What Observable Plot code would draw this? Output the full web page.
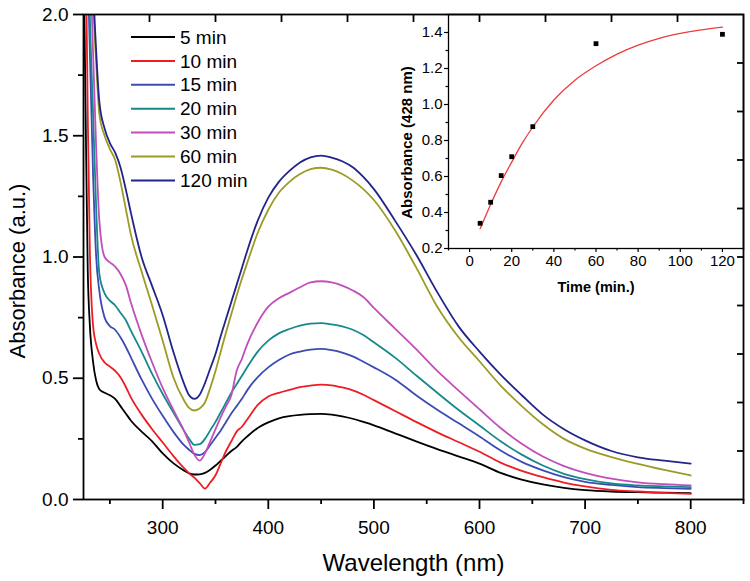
<!DOCTYPE html>
<html><head><meta charset="utf-8">
<script src="https://cdn.jsdelivr.net/npm/d3@7"></script>
<script src="https://cdn.jsdelivr.net/npm/@observablehq/plot@0.6"></script>
<style>
body{margin:0;background:#fff;}
#wrap{position:relative;width:750px;height:581px;}
#wrap svg{position:absolute;left:0;top:0;}
</style></head><body><div id="wrap"></div>
<script>
// ---- main spectra data ----
const wavelength = [225,227,229,231,234,237,240,245,250,255,260,265,270,280,290,300,310,320,325,330,335,340,345,350,355,360,365,370,375,380,390,400,410,420,430,440,450,460,470,480,490,500,520,540,560,580,600,620,640,660,680,700,725,750,775,800];
const seriesNames = ["5 min","10 min","15 min","20 min","30 min","60 min","120 min"];
const seriesColors = ["#000000","#ee1d24","#3c4cb2","#16898a","#c04fbb","#9c9b26","#21248a"];
const abs5 = [2.3,1.6,0.95,0.72,0.57,0.49,0.455,0.44,0.43,0.415,0.385,0.355,0.325,0.28,0.24,0.19,0.15,0.12,0.108,0.103,0.104,0.11,0.123,0.14,0.16,0.18,0.2,0.216,0.24,0.26,0.295,0.318,0.335,0.344,0.349,0.352,0.353,0.35,0.343,0.333,0.32,0.306,0.273,0.24,0.208,0.178,0.148,0.11,0.082,0.062,0.048,0.039,0.033,0.030,0.028,0.026];
const abs10 = [2.6,2.3,1.6,1.03,0.72,0.64,0.6,0.565,0.548,0.53,0.504,0.465,0.42,0.35,0.29,0.235,0.18,0.13,0.108,0.09,0.068,0.045,0.07,0.1,0.15,0.2,0.24,0.28,0.3,0.33,0.39,0.425,0.44,0.452,0.463,0.47,0.474,0.471,0.462,0.45,0.432,0.41,0.365,0.32,0.277,0.237,0.197,0.152,0.118,0.092,0.07,0.054,0.04,0.033,0.027,0.023];
const abs15 = [3.0,2.6,2.2,1.85,1.35,1.0,0.86,0.75,0.715,0.7,0.669,0.63,0.585,0.495,0.415,0.345,0.28,0.225,0.205,0.188,0.183,0.195,0.225,0.255,0.285,0.32,0.355,0.385,0.415,0.45,0.505,0.545,0.575,0.598,0.61,0.618,0.621,0.616,0.606,0.59,0.568,0.545,0.495,0.43,0.37,0.315,0.26,0.202,0.155,0.12,0.092,0.073,0.06,0.051,0.047,0.044];
const abs20 = [3.2,2.8,2.4,2.0,1.6,1.2,0.93,0.85,0.82,0.8,0.77,0.74,0.695,0.61,0.518,0.435,0.36,0.285,0.25,0.225,0.228,0.25,0.285,0.32,0.36,0.4,0.44,0.475,0.51,0.545,0.61,0.655,0.685,0.703,0.717,0.725,0.727,0.722,0.714,0.7,0.678,0.648,0.585,0.512,0.44,0.37,0.305,0.24,0.185,0.14,0.106,0.084,0.066,0.058,0.054,0.051];
const abs30 = [3.5,3.1,2.7,2.3,1.85,1.45,1.15,1.0,0.978,0.96,0.93,0.885,0.81,0.68,0.565,0.46,0.37,0.285,0.235,0.185,0.16,0.19,0.24,0.29,0.34,0.385,0.43,0.53,0.58,0.64,0.73,0.795,0.83,0.852,0.875,0.895,0.9,0.895,0.882,0.862,0.835,0.79,0.705,0.62,0.53,0.45,0.372,0.295,0.23,0.177,0.138,0.11,0.086,0.071,0.063,0.058];
const abs60 = [3.5,3.2,2.9,2.6,2.08,1.8,1.59,1.5,1.445,1.4,1.31,1.2,1.09,0.94,0.8,0.655,0.505,0.41,0.378,0.367,0.375,0.4,0.46,0.53,0.61,0.69,0.765,0.84,0.91,0.975,1.1,1.195,1.265,1.31,1.342,1.362,1.368,1.36,1.342,1.315,1.28,1.235,1.11,0.957,0.795,0.67,0.57,0.47,0.385,0.31,0.25,0.21,0.175,0.147,0.122,0.099];
const abs120 = [3.6,3.3,3.0,2.7,2.15,1.85,1.64,1.53,1.47,1.43,1.37,1.28,1.18,1.0,0.88,0.76,0.61,0.48,0.43,0.415,0.432,0.48,0.54,0.6,0.675,0.745,0.815,0.885,0.955,1.025,1.15,1.245,1.31,1.355,1.39,1.411,1.418,1.41,1.395,1.37,1.33,1.28,1.15,1.01,0.855,0.715,0.61,0.515,0.43,0.35,0.29,0.244,0.2,0.174,0.16,0.148];
const seriesValues = [abs5,abs10,abs15,abs20,abs30,abs60,abs120];

// main axis ticks
const xTicks = [300,400,500,600,700,800];
const xMinorTicks = [250,350,450,550,650,750,850];
const yTicks = [0,0.5,1.0,1.5,2.0];
const yMinorTicks = [0.25,0.75,1.25,1.75];
const topTicks = [287.5,350,412.5,475,537.5,600,662.5,725,787.5];
const rightTicks = [0.2,0.4,0.6,0.8,1.0,1.2,1.4,1.6,1.8];

// ---- inset data ----
const time = [5,10,15,20,30,60,120];
const abs428 = [0.34,0.457,0.605,0.71,0.877,1.338,1.39];
const fitTime = [5,10,15,20,25,30,40,50,60,70,80,90,100,110,120];
const fitAbs = [0.31,0.445,0.57,0.68,0.785,0.875,1.025,1.135,1.215,1.28,1.33,1.368,1.395,1.415,1.43];
const insetXTicks = [0,20,40,60,80,100,120];
const insetXMinor = [-10,10,30,50,70,90,110,130];
const insetYTicks = [0.2,0.4,0.6,0.8,1.0,1.2,1.4];
const insetYMinor = [0.3,0.5,0.7,0.9,1.1,1.3,1.5];

const spectra = seriesNames.flatMap((s,i) => wavelength.map((w,j) => ({series:s, w, a: seriesValues[i][j]})));
const points = time.map((t,i) => ({t, a: abs428[i]}));
const fit = fitTime.map((t,i) => ({t, a: fitAbs[i]}));

const font = "'Liberation Sans', Arial, Helvetica, sans-serif";
const blank = () => "";

const main = Plot.plot({
  width: 750, height: 581,
  marginLeft: 83, marginRight: 7, marginTop: 14, marginBottom: 82,
  style: {fontFamily: font, color: "#000", background: "white", overflow: "visible"},
  x: {domain: [225, 850]},
  y: {domain: [0, 2]},
  color: {domain: seriesNames, range: seriesColors},
  marks: [
    Plot.line(spectra, {x: "w", y: "a", z: "series", stroke: "series", strokeWidth: 1.8, curve: "monotone-x", clip: true}),
    Plot.frame({strokeWidth: 1.8}),
    Plot.axisX({ticks: xTicks, tickSize: 10, tickPadding: 11, fontSize: 19, strokeWidth: 1.8, label: null, tickFormat: d => String(d)}),
    Plot.axisX({ticks: xMinorTicks, tickSize: 5, strokeWidth: 1.8, label: null, tickFormat: blank}),
    Plot.axisY({ticks: yTicks, tickSize: 10, tickPadding: 5, fontSize: 19, strokeWidth: 1.8, label: null, tickFormat: d3.format(".1f")}),
    Plot.axisY({ticks: yMinorTicks, tickSize: 5, strokeWidth: 1.8, label: null, tickFormat: blank}),
    Plot.axisX({anchor: "top", ticks: topTicks, tickSize: 7, dy: 7, strokeWidth: 1.8, label: null, tickFormat: blank}),
    Plot.axisY({anchor: "right", ticks: rightTicks, tickSize: 7, dx: -7, strokeWidth: 1.8, label: null, tickFormat: blank}),
    Plot.text(["Wavelength (nm)"], {frameAnchor: "bottom", dy: 64, fontSize: 24, fill: "#000", textAnchor: "middle", lineAnchor: "middle"}),
    Plot.text(["Absorbance (a.u.)"], {frameAnchor: "left", rotate: -90, dx: -66, dy: 14, fontSize: 22, fill: "#000", textAnchor: "middle", lineAnchor: "middle"})
  ]
});

const inset = Plot.plot({
  width: 750, height: 581,
  marginLeft: 448, marginRight: 7, marginTop: 14, marginBottom: 333,
  style: {fontFamily: font, color: "#000", background: "transparent", overflow: "visible"},
  x: {domain: [-10, 130]},
  y: {domain: [0.2, 1.5]},
  marks: [
    Plot.frame({strokeWidth: 1.3}),
    Plot.line(fit, {x: "t", y: "a", stroke: "#ee3b3b", strokeWidth: 1.3, curve: "monotone-x"}),
    Plot.dot(points, {x: "t", y: "a", symbol: "square", r: 2.7, fill: "#000", stroke: null}),
    Plot.axisX({ticks: insetXTicks, tickSize: 4, tickPadding: 3, fontSize: 15, strokeWidth: 1.2, label: null}),
    Plot.axisX({ticks: insetXMinor, tickSize: 2.5, strokeWidth: 1.2, label: null, tickFormat: blank}),
    Plot.axisY({ticks: insetYTicks, tickSize: 4, tickPadding: 2, fontSize: 15, strokeWidth: 1.2, label: null, tickFormat: d3.format(".1f")}),
    Plot.axisY({ticks: insetYMinor, tickSize: 2.5, strokeWidth: 1.2, label: null, tickFormat: blank}),
    Plot.text(["Time (min.)"], {frameAnchor: "bottom", dy: 39, fontSize: 14.5, fontWeight: "bold", fill: "#000", textAnchor: "middle", lineAnchor: "middle"}),
    Plot.text(["Absorbance (428 nm)"], {frameAnchor: "left", rotate: -90, dx: -41, dy: 11, fontSize: 15, fontWeight: "bold", fill: "#000", textAnchor: "middle", lineAnchor: "middle"})
  ]
});

const wrap = document.getElementById("wrap");
wrap.appendChild(main);
wrap.appendChild(inset);

// legend
const lg = d3.select(main).append("g").attr("font-family", font).attr("font-size", 19).attr("text-anchor", "start");
seriesNames.forEach((s, i) => {
  const y = 37 + i * 23.9;
  lg.append("line").attr("x1", 131).attr("x2", 175).attr("y1", y).attr("y2", y)
    .attr("stroke", seriesColors[i]).attr("stroke-width", 2);
  lg.append("text").attr("x", 180).attr("y", y).attr("dy", "0.35em").attr("fill", "#000").text(s);
});
</script></body></html>
